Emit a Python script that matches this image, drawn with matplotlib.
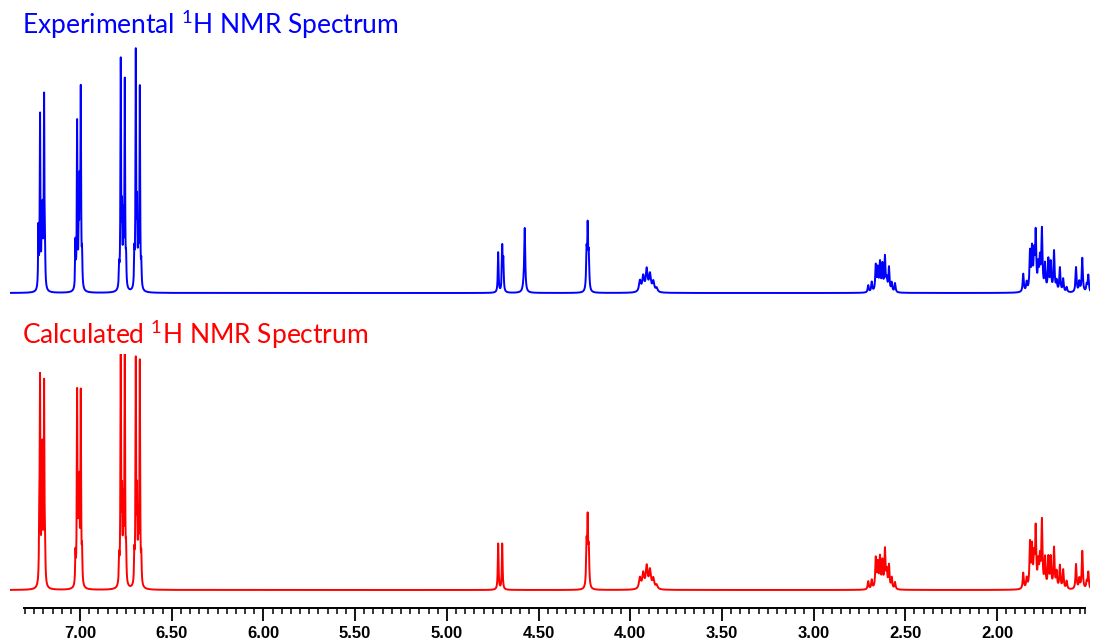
import numpy as np
import matplotlib
matplotlib.use("Agg")
import matplotlib.pyplot as plt
from matplotlib.ticker import FixedLocator

plt.rcParams["mathtext.fontset"] = "custom"
plt.rcParams["mathtext.rm"] = "Lato"
plt.rcParams["mathtext.default"] = "rm"

# ---- peak lists: shift (ppm), height, half width (ppm)
exp_shift = [7.227, 7.218, 7.209, 7.204, 7.196, 7.191,
             7.025, 7.016, 7.007, 7.002, 6.996, 6.989,
             6.787, 6.778, 6.771, 6.764, 6.756, 6.749,
             6.704, 6.696, 6.689, 6.682, 6.674, 6.666,
             4.720, 4.698, 4.692, 4.575, 4.579,
             4.238, 4.232, 4.226,
             3.947, 3.929, 3.910, 3.892, 3.874, 3.856,
             2.702, 2.683, 2.661, 2.650, 2.638, 2.625, 2.611, 2.601, 2.589, 2.574, 2.556,
             1.857, 1.838, 1.820, 1.809, 1.798, 1.789, 1.775, 1.766, 1.755, 1.738, 1.720,
             1.707, 1.689, 1.675, 1.657, 1.639, 1.620, 1.569, 1.551, 1.535, 1.511, 1.502]
exp_height = [60, 172, 55, 70, 190, 25,
              45, 165, 60, 90, 193, 30,
              20, 226, 70, 65, 206, 25,
              32, 234, 75, 50, 200, 22,
              40, 44, 30, 58, 10,
              38, 58, 34,
              11, 15, 22, 17, 10, 4,
              7, 10, 26, 22, 28, 26, 34, 11, 24, 9, 9,
              18, 9, 38, 40, 34, 56, 23, 29, 60, 26, 31,
              28, 40, 10, 24, 13, 5, 25, 10, 34, 7, 17]
exp_width = [0.002] * 24 + [0.0025, 0.0025, 0.0025, 0.003, 0.006,
                            0.003, 0.0025, 0.003] + [0.006] * 6 + [0.0035] * 33

calc_shift = [7.222, 7.218, 7.209, 7.205, 7.196, 7.191,
              7.025, 7.016, 7.009, 7.004, 6.996, 6.989,
              6.787, 6.778, 6.771, 6.764, 6.756, 6.749,
              6.704, 6.696, 6.689, 6.682, 6.674, 6.666,
              4.720, 4.698,
              4.238, 4.232, 4.226,
              3.947, 3.929, 3.910, 3.892, 3.874, 3.856,
              2.702, 2.683, 2.661, 2.650, 2.638, 2.625, 2.611, 2.601, 2.589, 2.574, 2.556,
              1.857, 1.838, 1.820, 1.809, 1.798, 1.789, 1.775, 1.766, 1.755, 1.738, 1.720,
              1.707, 1.689, 1.675, 1.657, 1.639, 1.620, 1.569, 1.551, 1.535, 1.511, 1.502]
calc_height = [60, 197, 75, 120, 197, 35,
               30, 190, 80, 90, 190, 30,
               25, 240, 80, 75, 240, 30,
               28, 222, 83, 60, 222, 25,
               46, 46,
               42, 62, 36,
               11, 15, 22, 18, 10, 4,
               8, 9, 30, 24, 30, 26, 38, 16, 23, 11, 7,
               16, 10, 44, 39, 28, 58, 23, 27, 66, 29, 30,
               30, 40, 16, 23, 19, 8, 25, 10, 38, 7, 17]
calc_width = [0.002] * 24 + [0.0025, 0.0025, 0.003, 0.0025, 0.003] + [0.006] * 6 + [0.0035] * 33

tick_major = [7.00, 6.50, 6.00, 5.50, 5.00, 4.50, 4.00, 3.50, 3.00, 2.50, 2.00]


def spectrum(ppm, shifts, heights, widths):
    y = np.zeros_like(ppm)
    for s, h, w in zip(shifts, heights, widths):
        y += h * w**2 / (w**2 + (ppm - s)**2)
    return y


W, H = 1096, 641
fig = plt.figure(figsize=(W / 100, H / 100), dpi=100)

x_left, x_right = 7.382, 1.493
ppm = np.linspace(x_right, x_left, 80000)


def px_axes(top, bottom):
    return fig.add_axes([10 / W, 1 - bottom / H, 1080 / W, (bottom - top) / H])


ax1 = px_axes(40, 300)
ax1.plot(ppm, spectrum(ppm, exp_shift, exp_height, exp_width), color="#0000FF", lw=1.4)
ax1.set_ylim(-7, 253)

ax2 = px_axes(354, 598)
ax2.plot(ppm, spectrum(ppm, calc_shift, calc_height, calc_width), color="#FF0000", lw=1.4)
ax2.set_ylim(-8, 236)

for ax in (ax1, ax2):
    ax.set_xlim(x_left, x_right)
    ax.axis("off")

ax3 = px_axes(600, 608)
ax3.set_xlim(x_left, x_right)
for s in ("top", "left", "right"):
    ax3.spines[s].set_visible(False)
ax3.spines["bottom"].set_bounds(1.522, 7.305)
ax3.spines["bottom"].set_linewidth(1.4)
ax3.set_yticks([])
ax3.xaxis.set_major_locator(FixedLocator(tick_major))
minor = [round(v, 2) for v in np.arange(1.55, 7.31, 0.05)] + [1.522]
ax3.xaxis.set_minor_locator(FixedLocator(minor))
ax3.set_xticklabels(["%.2f" % t for t in tick_major])
ax3.tick_params(axis="x", which="major", length=9, width=1.3, pad=4,
                labelsize=12, direction="out")
ax3.tick_params(axis="x", which="minor", length=4.5, width=1.1, direction="out")
for lab in ax3.get_xticklabels():
    lab.set_fontfamily("Liberation Sans")
    lab.set_fontweight("bold")
ax3.patch.set_alpha(0)

fig.text(22 / W, 1 - 25 / H, "Experimental $^{1}$H NMR Spectrum", color="#0000FF",
         fontsize=19, family="Lato", va="center", ha="left")
fig.text(22 / W, 1 - 335 / H, "Calculated $^{1}$H NMR Spectrum", color="#FF0000",
         fontsize=19, family="Lato", va="center", ha="left")

fig.savefig("out.png", dpi=100)
